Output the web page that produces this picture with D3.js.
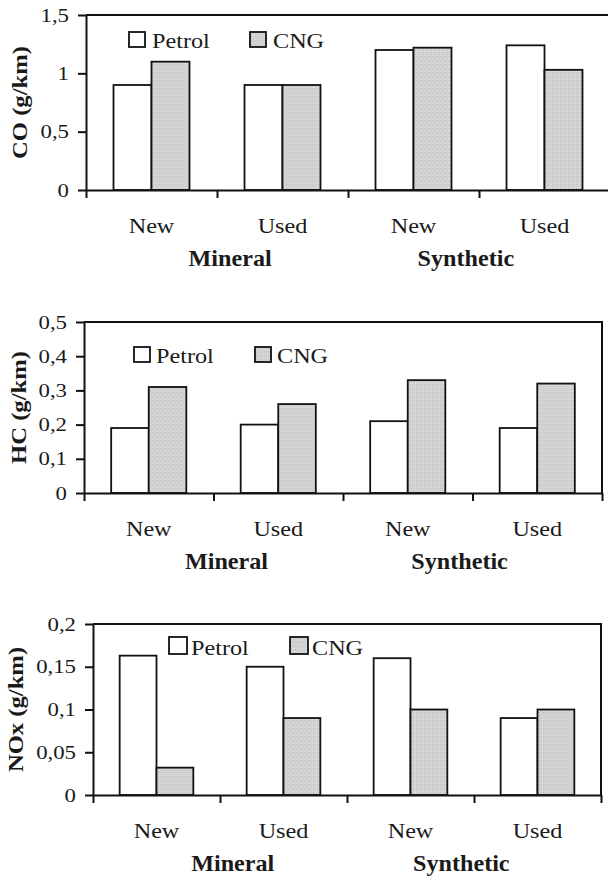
<!DOCTYPE html>
<html>
<head>
<meta charset="utf-8">
<script src="https://cdn.jsdelivr.net/npm/d3@7"></script>
<style>
  body { margin: 0; background: #fff; }
  svg { display: block; }
  text { font-family: "Liberation Serif", "Times New Roman", serif; fill: #1a1a1a; }
</style>
</head>
<body>
<svg id="chart" width="608" height="878"></svg>
<script>
// data
const categories = ["New", "Used", "New", "Used"];
const groups = ["Mineral", "Synthetic"];
const series = ["Petrol", "CNG"];

const coPetrol = [0.90, 0.90, 1.20, 1.24];
const coCNG = [1.10, 0.90, 1.22, 1.03];
const coTicks = [0, 0.5, 1, 1.5];

const hcPetrol = [0.19, 0.20, 0.21, 0.19];
const hcCNG = [0.31, 0.26, 0.33, 0.32];
const hcTicks = [0, 0.1, 0.2, 0.3, 0.4, 0.5];

const noxPetrol = [0.163, 0.150, 0.160, 0.090];
const noxCNG = [0.032, 0.090, 0.100, 0.100];
const noxTicks = [0, 0.05, 0.1, 0.15, 0.2];

const titles = ["CO (g/km)", "HC (g/km)", "NOx (g/km)"];

// layout for the three panels
const panels = [
  {title: titles[0], petrol: coPetrol, cng: coCNG, ticks: coTicks,
   left: 86, right: 610, top: 15, bottom: 190, titleX: 27, legX: 43, legY: 17, box: 15, gap: 8},
  {title: titles[1], petrol: hcPetrol, cng: hcCNG, ticks: hcTicks,
   left: 84, right: 602, top: 322, bottom: 493, titleX: 26, legX: 50, legY: 25, box: 15, gap: 7},
  {title: titles[2], petrol: noxPetrol, cng: noxCNG, ticks: noxTicks,
   left: 93, right: 601, top: 624, bottom: 795, titleX: 23, legX: 76, legY: 13, box: 17, gap: 5}
];

const comma = d3.formatLocale({decimal: ",", thousands: ".", grouping: [3], currency: ["", ""]}).format("~g");

const svg = d3.select("#chart");

// grainy grey like the scanned CNG bars
const pat = svg.append("defs").append("pattern")
  .attr("id", "grain").attr("width", 4).attr("height", 4)
  .attr("patternUnits", "userSpaceOnUse");
pat.append("rect").attr("width", 4).attr("height", 4).attr("fill", "#d3d3d3");
pat.append("rect").attr("x", 1).attr("y", 0).attr("width", 1).attr("height", 1).attr("fill", "#bdbdbd");
pat.append("rect").attr("x", 3).attr("y", 2).attr("width", 1).attr("height", 1).attr("fill", "#c4c4c4");
pat.append("rect").attr("x", 0).attr("y", 3).attr("width", 1).attr("height", 1).attr("fill", "#e2e2e2");

const fills = {Petrol: "#ffffff", CNG: "url(#grain)"};

// the scanned lettering is a bit wider than Times
function place(sel, x, y, sx) {
  return sel.attr("transform", `translate(${x},${y}) scale(${sx},1)`);
}

function drawPanel(p) {
  const g = svg.append("g");

  const x = d3.scaleBand()
    .domain(d3.range(categories.length))
    .range([p.left, p.right])
    .paddingInner(0).paddingOuter(0);

  const xs = d3.scaleBand()
    .domain(series)
    .range([0, x.bandwidth()])
    .paddingInner(0).paddingOuter(0.724);

  const y = d3.scaleLinear()
    .domain([0, d3.max(p.ticks)])
    .range([p.bottom, p.top]);

  // top and right frame
  g.append("path")
    .attr("d", `M${p.left},${p.top}H${p.right}V${p.bottom}`)
    .attr("fill", "none")
    .attr("stroke", "#111")
    .attr("stroke-width", 2);

  // bars
  const rows = categories.map((c, i) => ({i, Petrol: p.petrol[i], CNG: p.cng[i]}));
  g.append("g")
    .selectAll("g")
    .data(rows)
    .join("g")
    .attr("transform", d => `translate(${x(d.i)},0)`)
    .selectAll("rect")
    .data(d => series.map(s => ({s, v: d[s]})))
    .join("rect")
    .attr("x", d => xs(d.s))
    .attr("width", xs.bandwidth())
    .attr("y", d => y(d.v))
    .attr("height", d => y(0) - y(d.v))
    .attr("fill", d => fills[d.s])
    .attr("stroke", "#111")
    .attr("stroke-width", 1.8);

  // y axis
  const ya = g.append("g")
    .attr("transform", `translate(${p.left},0)`)
    .call(d3.axisLeft(y).tickValues(p.ticks).tickFormat(comma).tickSize(8).tickSizeOuter(0).tickPadding(9));
  ya.selectAll("path, line").attr("stroke", "#111").attr("stroke-width", 2);
  ya.selectAll("text")
    .attr("x", -17 / 1.2)
    .attr("transform", "scale(1.2,1)")
    .attr("fill", "#1a1a1a")
    .style("font-size", "19px")
    .style("font-family", "'Liberation Serif', serif");

  // x axis with ticks between categories
  const xb = d3.scaleLinear().domain([0, categories.length]).range([p.left, p.right]);
  const xa = g.append("g")
    .attr("transform", `translate(0,${p.bottom})`)
    .call(d3.axisBottom(xb).tickValues(d3.range(categories.length + 1)).tickFormat("").tickSize(8).tickSizeOuter(0));
  xa.selectAll("path, line").attr("stroke", "#111").attr("stroke-width", 2);

  // category labels
  g.append("g")
    .selectAll("text")
    .data(categories)
    .join("text")
    .each(function(d, i) { place(d3.select(this), x(i) + x.bandwidth() / 2, p.bottom + 43, 1.1); })
    .attr("text-anchor", "middle")
    .style("font-size", "22px")
    .text(d => d);

  // group labels
  const groupPos = [1.1, 2.9];
  g.append("g")
    .selectAll("text")
    .data(groups)
    .join("text")
    .each(function(d, i) { place(d3.select(this), p.left + x.step() * groupPos[i], p.bottom + 76, 1.05); })
    .attr("text-anchor", "middle")
    .style("font-size", "23px")
    .style("font-weight", "bold")
    .text(d => d);

  // y title
  g.append("text")
    .attr("transform", `translate(${p.titleX},${(p.top + p.bottom) / 2}) rotate(-90) scale(1.12,1)`)
    .attr("text-anchor", "middle")
    .style("font-size", "22px")
    .style("font-weight", "bold")
    .text(p.title);

  // legend
  const leg = g.append("g")
    .attr("transform", `translate(${p.left + p.legX},${p.top + p.legY})`)
    .selectAll("g")
    .data(series)
    .join("g")
    .attr("transform", (d, i) => `translate(${i * 121},0)`);
  leg.append("rect")
    .attr("width", p.box + 1).attr("height", p.box)
    .attr("fill", d => fills[d])
    .attr("stroke", "#111")
    .attr("stroke-width", 1.8);
  leg.append("text")
    .each(function() { place(d3.select(this), p.box + p.gap, p.box + 1, 1.1); })
    .style("font-size", "22px")
    .text(d => d);
}

panels.forEach(drawPanel);
</script>
</body>
</html>
